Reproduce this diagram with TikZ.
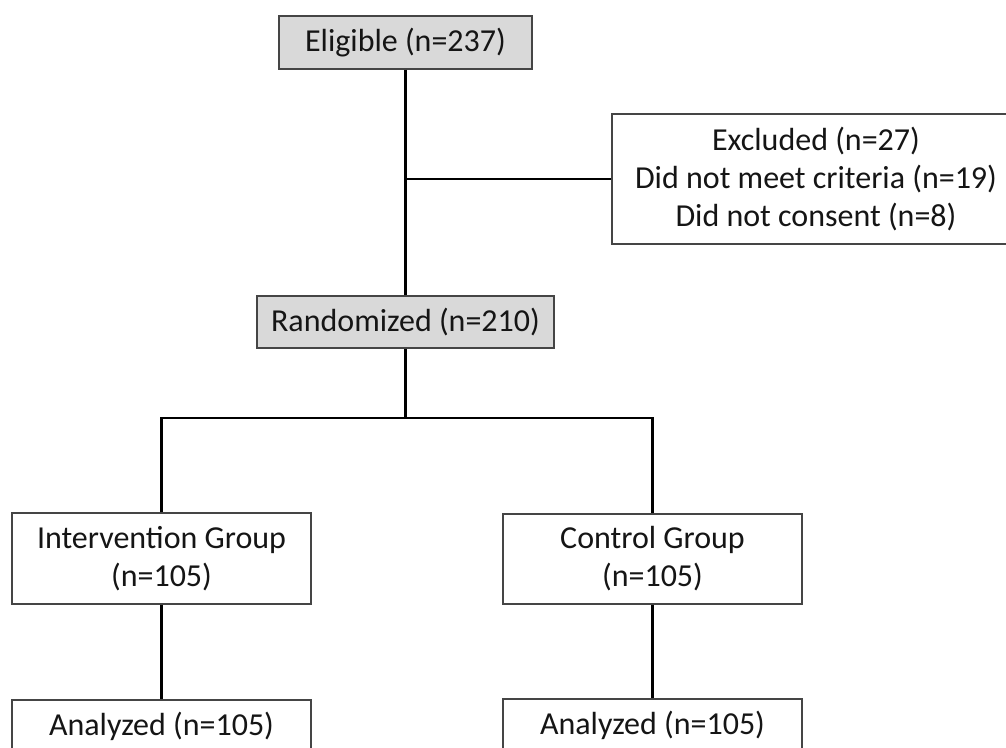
\documentclass[tikz,border=0pt]{standalone}
\usepackage{fontspec}
\setmainfont{Carlito}
\definecolor{boxgray}{HTML}{D9D9D9}
\definecolor{edgegray}{HTML}{454545}
\definecolor{txt}{HTML}{151515}
\begin{document}
\begin{tikzpicture}[x=1pt,y=1pt,
  flowbox/.style={draw=edgegray, line width=1.3pt, fill=white, inner sep=0pt,
    align=center, text=txt, font=\fontsize{32}{38}\selectfont},
  graybox/.style={flowbox, fill=boxgray},
  link/.style={draw=black, line width=2.4pt}]
\useasboundingbox (0,0) rectangle (1006,-747);
\clip (0,0) rectangle (1006,-747);
\fill[white] (0,0) rectangle (1006,-747);
\node[graybox, minimum width=253pt, minimum height=53pt] (elig) at (405.5,-42.5) {Eligible (n=237)};
\node[flowbox, minimum width=440pt, minimum height=130pt] (excl) at (832,-179) {};
\node[text=txt, align=center, inner sep=0pt, font=\fontsize{32}{38}\selectfont] (excltext) at (816,-179) {Excluded (n=27)\\Did not meet criteria (n=19)\\Did not consent (n=8)};
\node[graybox, minimum width=297pt, minimum height=52pt] (rand) at (405.5,-322) {Randomized (n=210)};
\node[flowbox, minimum width=299pt, minimum height=91pt] (int) at (161.5,-558.5) {Intervention Group\\(n=105)};
\node[flowbox, minimum width=299pt, minimum height=90pt] (ctrl) at (652.5,-559) {Control Group\\(n=105)};
\node[flowbox, minimum width=299pt, minimum height=53pt] (an1) at (161.5,-726.5) {Analyzed (n=105)};
\node[flowbox, minimum width=299pt, minimum height=53pt] (an2) at (652.5,-725.5) {Analyzed (n=105)};
\coordinate (j1) at (elig.south |- excl.west);
\coordinate (split) at (405.5,-418);
\draw[link] (elig.south) -- (rand.north);
\draw[link] (j1) -- (excl.west);
\draw[link] (rand.south) -- (split);
\draw[link] (int.north) |- (split) -| (ctrl.north);
\draw[link] (int.south) -- (an1.north);
\draw[link] (ctrl.south) -- (an2.north);
\end{tikzpicture}
\end{document}
